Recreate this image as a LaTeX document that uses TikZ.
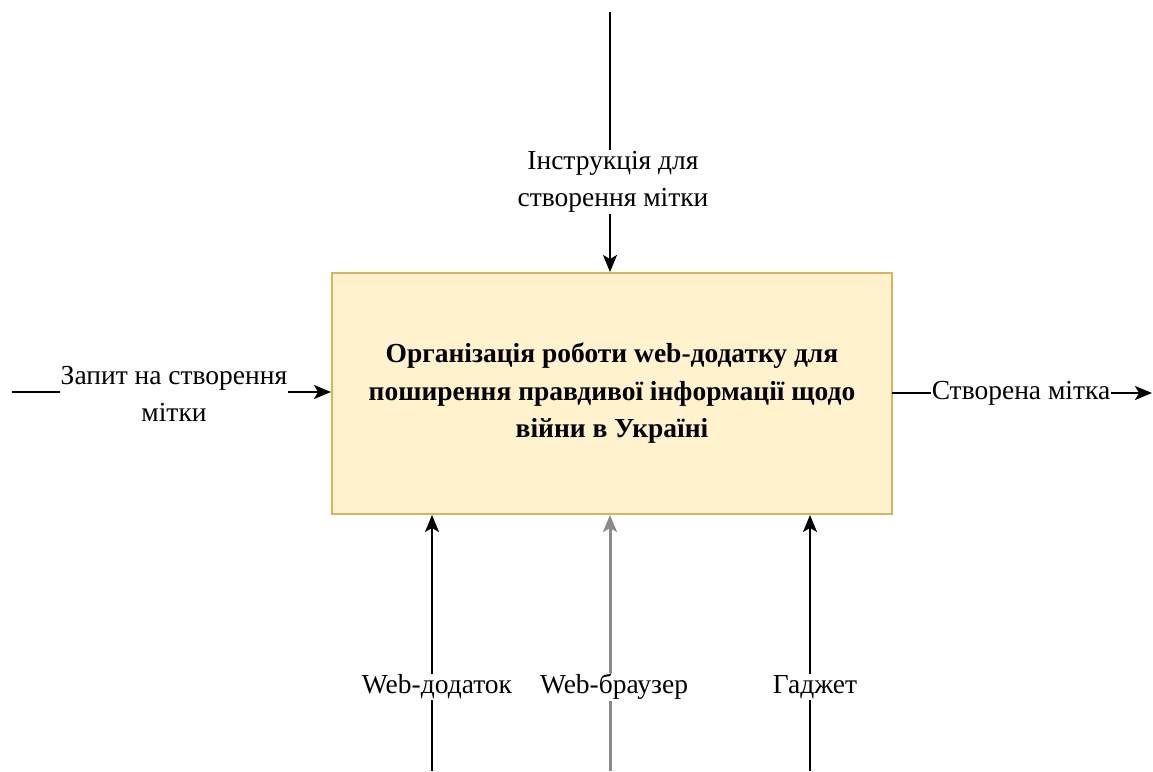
\documentclass[tikz,border=0pt]{standalone}
\usepackage{fontspec}
\setmainfont{Liberation Serif}
\usetikzlibrary{arrows.meta}
\definecolor{boxfill}{HTML}{FFF2CC}
\definecolor{boxline}{HTML}{D6B656}
\definecolor{midgray}{HTML}{8A8A8A}
\tikzset{
  fn/.style={font=\fontsize{27.5}{37.5}\selectfont},
  func/.style={draw=boxline, fill=boxfill, line width=2pt, minimum width=560pt, minimum height=241pt, inner sep=0pt, align=center, font=\fontsize{27.5}{37.5}\selectfont\bfseries},
  arr/.style={line width=1.8pt, -{Stealth[length=17pt,width=14pt,inset=4pt]}},
  lbl/.style={fn, fill=white, inner sep=1pt, align=center},
}
\begin{document}
\begin{tikzpicture}[x=1pt,y=-1pt]
\useasboundingbox (0,0) rectangle (1153,771);
\node[func] (box) at (612,393.5) {Організація роботи web-додатку для\\поширення правдивої інформації щодо\\війни в Україні};
% control
\coordinate (ctlS) at (610,12);
\draw[arr] (ctlS) -- (box.north -| ctlS);
\node[lbl] (ctlL) at (613,182) {Інструкція для\\створення мітки};
% input
\coordinate (inS) at (12,392);
\draw[arr] (inS) -- (inS -| box.west);
\node[lbl] (inL) at (174,394) {Запит на створення\\мітки};
% output
\coordinate (outS) at (892,393);
\coordinate (outE) at (1152,393);
\draw[arr] (outS) -- (outE);
\node[lbl] (outL) at (1021,393) {Створена мітка};
% mechanisms
\coordinate (m1) at (432,771);
\coordinate (m2) at (610,771);
\coordinate (m3) at (810,771);
\draw[arr] (m1) -- (m1 |- box.south);
\draw[arr, draw=midgray, line width=3pt] (m2) -- (m2 |- box.south);
\draw[arr] (m3) -- (m3 |- box.south);
\node[lbl] (m1L) at (437,687) {Web-додаток};
\node[lbl] (m2L) at (614,687) {Web-браузер};
\node[lbl] (m3L) at (815,687) {Гаджет};
\end{tikzpicture}
\end{document}
